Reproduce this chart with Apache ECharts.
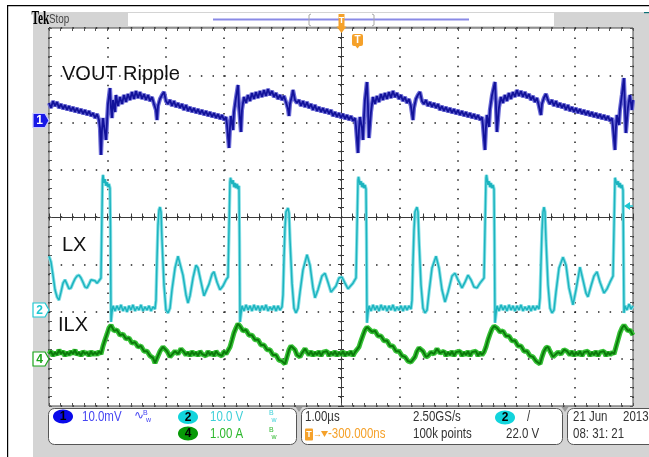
<!DOCTYPE html>
<html>
<head>
<meta charset="utf-8">
<script src="https://cdn.jsdelivr.net/npm/echarts@6/dist/echarts.min.js"></script>
<style>
html,body{margin:0;padding:0;background:#fff;}
#chart{width:649px;height:457px;}
</style>
</head>
<body>
<div id="chart"></div>
<script>
// Time in microseconds (1.00 us/div, 10 divisions)
// CH1 VOUT ripple in mV (10.0 mV/div)
const voutRipple = [
[0,4.13],[0.034,3.07],[0.068,4.55],[0.103,3.49],[0.137,4.34],[0.171,3.07],[0.205,3.91],[0.240,2.86],[0.274,3.70],[0.308,2.65],[0.342,3.49],[0.377,2.43],[0.411,3.28],[0.445,2.22],[0.479,3.07],[0.514,2.01],[0.548,2.86],[0.582,1.80],[0.616,2.65],[0.651,1.59],[0.685,2.43],[0.719,1.38],[0.753,2.01],[0.788,0.95],[0.822,1.80],[0.856,0.53],
[0.873,-1.16],[0.890,-6.88],[0.907,-1.59],[0.925,0.95],[0.942,-0.74],[0.976,-3.70],[0.993,0.11],[1.010,3.91],[1.044,7.30],[1.061,3.07],[1.079,0.95],[1.096,4.76],[1.130,2.22],[1.147,5.82],[1.181,3.49],
[1.216,5.40],[1.250,3.91],[1.284,5.82],[1.318,4.34],[1.352,6.03],[1.387,4.76],[1.421,6.45],[1.455,4.97],[1.489,6.67],[1.524,5.18],[1.558,6.45],[1.592,4.97],[1.626,6.03],[1.661,4.76],[1.695,5.82],[1.729,4.55],[1.763,5.40],[1.798,3.91],[1.832,2.65],[1.849,0.53],[1.866,3.49],[1.900,4.97],[1.935,5.82],[1.969,6.45],[2.003,4.55],
[2.037,3.91],[2.072,4.76],[2.106,3.49],[2.140,4.55],[2.174,3.28],[2.208,4.13],[2.243,3.07],[2.277,3.91],[2.311,2.65],[2.345,3.70],[2.380,2.43],[2.414,3.28],[2.448,2.22],[2.482,3.07],[2.517,2.01],[2.551,2.86],[2.585,1.80],[2.619,2.65],[2.654,1.59],[2.688,2.43],[2.722,1.38],[2.756,2.22],[2.791,1.16],[2.825,2.01],[2.859,0.95],[2.893,1.80],[2.928,0.74],[2.962,1.59],[2.996,0.53],[3.030,1.16],
[3.047,-0.32],[3.082,-5.40],[3.099,-1.16],[3.116,1.38],[3.150,-1.59],[3.167,2.22],[3.201,5.18],[3.236,7.94],[3.253,3.49],[3.287,-2.01],[3.304,2.65],[3.338,5.40],
[3.373,4.13],[3.407,5.82],[3.441,4.55],[3.475,6.24],[3.510,4.97],[3.544,6.45],[3.578,5.18],[3.612,6.67],[3.647,5.40],[3.681,6.88],[3.715,5.61],[3.749,7.09],[3.784,5.82],[3.818,6.67],[3.852,5.40],[3.886,6.24],[3.920,4.97],[3.955,5.82],[3.989,4.76],[4.023,5.61],[4.057,4.34],[4.092,2.86],[4.109,1.38],[4.126,3.91],[4.160,5.61],[4.177,6.88],[4.212,4.76],
[4.246,4.13],[4.280,4.76],[4.314,3.49],[4.349,4.55],[4.383,3.28],[4.417,4.34],[4.451,3.07],[4.486,3.91],[4.520,2.65],[4.554,3.70],[4.588,2.43],[4.623,3.28],[4.657,2.22],[4.691,3.07],[4.725,2.01],[4.760,2.86],[4.794,1.80],[4.828,2.65],[4.862,1.38],[4.897,2.22],[4.931,1.16],[4.965,2.01],[4.999,0.95],[5.034,1.80],[5.068,0.74],[5.102,1.59],[5.136,0.53],[5.171,1.38],[5.205,0.32],[5.239,0.95],
[5.256,-0.74],[5.290,-6.45],[5.307,-1.59],[5.324,1.16],[5.359,-1.16],[5.376,-3.70],[5.393,0.95],[5.410,4.76],[5.444,8.57],[5.461,3.70],[5.478,-3.28],[5.513,2.22],[5.547,5.40],
[5.581,3.91],[5.615,5.61],[5.650,4.34],[5.684,6.03],[5.718,4.76],[5.752,6.24],[5.787,4.97],[5.821,6.45],[5.855,5.18],[5.889,6.67],[5.924,5.40],[5.958,6.24],[5.992,4.97],[6.026,5.82],[6.060,4.55],[6.095,5.40],[6.129,4.13],[6.163,4.97],[6.197,3.49],[6.232,0.53],[6.249,3.07],[6.283,4.97],[6.317,5.82],[6.352,6.45],[6.386,4.55],
[6.420,3.91],[6.454,4.76],[6.488,3.49],[6.523,4.34],[6.557,3.28],[6.591,4.13],[6.625,3.07],[6.660,3.91],[6.694,2.65],[6.728,3.49],[6.762,2.43],[6.797,3.28],[6.831,2.22],[6.865,3.07],[6.899,2.01],[6.934,2.86],[6.968,1.80],[7.002,2.65],[7.036,1.59],[7.071,2.43],[7.105,1.38],[7.139,2.22],[7.173,1.16],[7.208,2.01],[7.242,0.95],[7.276,1.80],[7.310,0.74],[7.345,1.59],[7.379,0.53],[7.413,1.16],
[7.430,-0.53],[7.464,-5.82],[7.481,-1.16],[7.499,1.59],[7.533,-0.95],[7.550,2.65],[7.584,5.61],[7.636,8.57],[7.653,3.91],[7.670,-2.01],[7.704,3.07],[7.738,5.40],
[7.772,4.13],[7.807,5.82],[7.841,4.55],[7.875,6.24],[7.909,4.97],[7.944,6.45],[7.978,5.40],[8.012,6.88],[8.046,5.61],[8.081,6.67],[8.115,5.40],[8.149,6.45],[8.183,5.18],[8.218,6.03],[8.252,4.76],[8.286,5.61],[8.320,4.34],[8.355,5.18],[8.389,3.49],[8.423,1.59],[8.440,3.91],[8.474,5.18],[8.509,6.03],[8.543,4.76],
[8.577,3.91],[8.611,4.76],[8.646,3.49],[8.680,4.55],[8.714,3.28],[8.748,4.13],[8.783,3.07],[8.817,3.91],[8.851,2.65],[8.885,3.70],[8.920,2.43],[8.954,3.28],[8.988,2.22],[9.022,3.07],[9.056,2.01],[9.091,2.86],[9.125,1.80],[9.159,2.65],[9.193,1.59],[9.228,2.43],[9.262,1.38],[9.296,2.22],[9.330,1.16],[9.365,2.01],[9.399,0.95],[9.433,1.80],[9.467,0.74],[9.502,1.59],[9.536,0.53],[9.570,1.38],[9.604,0.32],[9.639,0.95],
[9.656,-0.74],[9.690,-5.82],[9.707,-1.16],[9.724,1.59],[9.758,-0.53],[9.776,2.65],[9.810,5.82],[9.844,9.42],[9.861,3.70],[9.878,-2.22],[9.913,3.07],[9.947,5.82],[9.981,2.65],[10,4.76]
];

// CH2 LX switch node in V (10.0 V/div)
const lxVolts = [
[0,11.7],[0.034,10.5],[0.068,7.7],[0.103,4.6],[0.137,3.1],[0.171,2.4],[0.205,4.1],[0.240,6.0],[0.274,6.7],[0.308,5.8],[0.342,4.8],[0.377,5.0],[0.411,6.0],[0.445,6.9],[0.479,7.5],[0.514,7.7],[0.548,7.1],[0.582,6.2],[0.616,5.2],[0.651,5.0],[0.685,5.8],[0.719,6.7],[0.753,7.1],[0.788,6.5],[0.822,6.0],[0.856,6.5],[0.890,7.1],
[0.908,6.7],[0.916,27.8],[0.925,28.9],[0.942,27.2],[0.959,28.0],[0.976,26.6],[0.993,27.4],[1.010,26.3],[1.027,27.0],[1.044,26.1],[1.053,17.2],[1.062,-2.2],[1.079,-0.1],[1.096,1.2],
[1.130,0.1],[1.164,1.2],[1.199,0.3],[1.233,1.4],[1.267,0.1],[1.301,1.0],[1.336,-0.1],[1.370,1.2],[1.404,0.3],[1.438,1.4],[1.473,0.1],[1.507,1.0],[1.541,0.3],[1.575,1.4],[1.610,0.1],[1.644,1.0],[1.678,0.3],[1.712,1.2],[1.747,0.1],[1.781,1.0],[1.815,0.5],
[1.832,2.4],[1.849,10.9],[1.866,18.3],[1.884,21.5],[1.901,22.1],[1.918,21.1],[1.935,15.1],[1.969,5.6],[2.003,0.3],[2.038,-0.3],[2.072,0.7],[2.106,4.6],[2.158,9.2],[2.209,11.7],[2.243,11.3],[2.294,7.7],[2.346,3.5],[2.380,1.8],[2.414,3.3],[2.466,7.1],[2.517,9.8],[2.551,9.2],[2.603,6.2],[2.654,3.3],[2.688,3.1],[2.740,5.8],[2.791,7.9],[2.825,8.4],[2.877,6.2],[2.928,4.6],[2.979,5.4],[3.031,6.7],[3.065,7.3],[3.091,7.5],
[3.099,27.4],[3.108,28.3],[3.116,28.7],[3.133,27.0],[3.151,27.8],[3.168,26.3],[3.185,27.2],[3.202,26.1],[3.219,27.0],[3.236,25.9],[3.253,26.6],[3.262,15.1],[3.271,-2.2],[3.288,-0.5],[3.305,1.2],
[3.339,0.1],[3.373,1.4],[3.408,0.3],[3.442,1.2],[3.476,0.1],[3.510,1.4],[3.545,0.3],[3.579,1.2],[3.613,0.1],[3.647,1.2],[3.682,0.3],[3.716,1.4],[3.750,0.1],[3.784,1.0],[3.818,0.3],[3.853,1.2],[3.887,0.1],[3.921,1.2],[3.955,0.3],[3.990,1.0],
[4.007,3.5],[4.024,11.3],[4.041,17.7],[4.058,21.1],[4.092,21.9],[4.110,20.8],[4.127,15.1],[4.161,6.0],[4.195,0.7],[4.229,-0.3],[4.264,0.7],[4.298,4.1],[4.349,8.8],[4.418,12.0],[4.469,9.8],[4.520,5.0],[4.555,2.9],[4.606,4.6],[4.674,7.5],[4.726,8.1],[4.777,6.2],[4.829,4.1],[4.863,3.7],[4.914,5.4],[4.966,7.1],[5.017,7.3],[5.068,6.0],[5.120,4.8],[5.154,5.0],[5.205,6.0],[5.257,7.1],[5.282,7.3],
[5.291,27.8],[5.300,28.5],[5.308,28.7],[5.325,26.8],[5.342,27.6],[5.360,26.3],[5.377,27.2],[5.394,26.1],[5.411,26.8],[5.428,25.9],[5.437,15.1],[5.445,-2.4],[5.462,-0.3],[5.479,1.2],
[5.514,0.1],[5.548,1.4],[5.582,0.3],[5.616,1.2],[5.651,0.1],[5.685,1.4],[5.719,0.3],[5.753,1.2],[5.788,0.1],[5.822,1.2],[5.856,0.3],[5.890,1.4],[5.925,0.1],[5.959,1.0],[5.993,0.3],[6.027,1.2],[6.062,0.1],[6.096,1.2],[6.130,0.3],[6.164,1.2],[6.199,0.5],
[6.216,2.4],[6.233,10.5],[6.250,17.2],[6.267,21.1],[6.301,22.1],[6.318,21.1],[6.336,15.1],[6.370,5.6],[6.404,0.7],[6.438,-0.3],[6.473,0.3],[6.507,4.1],[6.558,9.2],[6.627,11.7],[6.678,9.2],[6.729,4.6],[6.781,2.0],[6.832,4.1],[6.901,7.5],[6.952,8.1],[7.003,6.7],[7.072,5.0],[7.123,6.2],[7.175,7.7],[7.226,6.7],[7.277,5.2],[7.329,5.0],[7.380,6.0],[7.449,7.1],[7.474,7.3],
[7.483,28.3],[7.491,28.9],[7.500,28.7],[7.517,26.8],[7.534,27.6],[7.551,26.3],[7.568,27.2],[7.585,26.1],[7.603,26.8],[7.620,25.9],[7.628,15.1],[7.637,-2.4],[7.654,-0.5],[7.671,1.2],
[7.705,0.1],[7.740,1.4],[7.774,0.3],[7.808,1.2],[7.842,0.1],[7.877,1.4],[7.911,0.3],[7.945,1.2],[7.979,0.1],[8.014,1.2],[8.048,0.3],[8.082,1.4],[8.116,0.1],[8.151,1.0],[8.185,0.3],[8.219,1.2],[8.253,0.1],[8.288,1.2],[8.322,0.3],[8.356,1.2],[8.390,0.5],
[8.408,2.9],[8.425,10.5],[8.442,17.2],[8.459,21.1],[8.476,22.1],[8.493,21.1],[8.510,15.1],[8.545,5.6],[8.579,0.7],[8.613,-0.3],[8.647,0.3],[8.681,4.1],[8.733,9.2],[8.801,11.5],[8.853,9.8],[8.904,5.0],[8.972,1.4],[9.024,4.6],[9.092,9.4],[9.143,6.7],[9.195,3.9],[9.229,3.1],[9.281,5.4],[9.332,7.5],[9.383,8.4],[9.435,6.2],[9.503,3.9],[9.555,4.8],[9.606,6.2],[9.658,7.5],[9.683,7.5],
[9.692,28.3],[9.700,28.7],[9.709,28.5],[9.726,26.8],[9.743,27.6],[9.760,26.3],[9.777,27.2],[9.795,26.1],[9.812,26.8],[9.829,25.7],[9.837,13.0],[9.846,-0.3],[9.863,1.2],[9.897,0.3],[9.932,1.6],[9.966,0.5],[10,1.2]
];

// CH4 ILX inductor current in A (1.00 A/div)
const ilxAmps = [
[0,0.10],[0.034,0.16],[0.068,0.06],[0.103,0.14],[0.137,0.08],[0.171,0.19],[0.205,0.10],[0.240,0.16],[0.274,0.06],[0.308,0.14],[0.342,0.08],[0.377,0.16],[0.411,0.10],[0.445,0.19],[0.479,0.08],[0.514,0.14],[0.548,0.06],[0.582,0.16],[0.616,0.10],[0.651,0.14],[0.685,0.06],[0.719,0.16],[0.753,0.08],[0.788,0.14],[0.822,0.08],[0.856,0.16],[0.890,0.10],
[0.925,0.27],[0.959,0.40],[0.993,0.52],[1.027,0.65],[1.062,0.71],[1.079,0.67],
[1.113,0.59],[1.164,0.61],[1.216,0.50],[1.267,0.52],[1.318,0.42],[1.370,0.44],[1.421,0.33],[1.473,0.35],[1.524,0.25],[1.575,0.27],[1.627,0.16],[1.678,0.16],[1.729,0.06],[1.781,0.02],[1.815,-0.09],[1.832,-0.11],
[1.866,0.06],[1.901,0.16],[1.952,0.25],[1.986,0.27],[2.021,0.16],[2.072,0.04],[2.106,0.06],[2.158,0.16],[2.209,0.10],[2.260,0.21],[2.312,0.14],[2.346,0.08],
[2.380,0.14],[2.414,0.06],[2.449,0.16],[2.483,0.08],[2.517,0.14],[2.551,0.06],[2.586,0.16],[2.620,0.10],[2.654,0.14],[2.688,0.06],[2.723,0.16],[2.757,0.08],[2.791,0.14],[2.825,0.06],[2.860,0.16],[2.894,0.10],[2.928,0.14],[2.962,0.06],[2.997,0.16],[3.031,0.10],[3.065,0.14],
[3.099,0.25],[3.134,0.40],[3.168,0.55],[3.202,0.65],[3.236,0.74],[3.253,0.76],[3.271,0.69],
[3.322,0.59],[3.373,0.61],[3.425,0.50],[3.476,0.50],[3.527,0.40],[3.579,0.40],[3.630,0.29],[3.682,0.29],[3.733,0.19],[3.784,0.19],[3.836,0.08],[3.887,0.08],[3.938,-0.03],[3.990,-0.05],[4.041,-0.11],
[4.075,0.04],[4.110,0.19],[4.144,0.27],[4.178,0.29],[4.212,0.19],[4.247,0.08],[4.298,0.04],[4.332,0.12],[4.384,0.21],[4.418,0.14],[4.452,0.08],
[4.486,0.16],[4.521,0.06],[4.555,0.14],[4.589,0.08],[4.623,0.16],[4.658,0.06],[4.692,0.14],[4.726,0.10],[4.760,0.16],[4.795,0.06],[4.829,0.14],[4.863,0.08],[4.897,0.16],[4.932,0.06],[4.966,0.14],[5.000,0.08],[5.034,0.16],[5.068,0.06],[5.103,0.14],[5.137,0.08],[5.171,0.16],[5.205,0.06],[5.240,0.14],[5.274,0.10],
[5.308,0.25],[5.342,0.38],[5.377,0.50],[5.411,0.61],[5.445,0.67],[5.462,0.69],[5.479,0.65],
[5.531,0.57],[5.582,0.59],[5.634,0.48],[5.685,0.48],[5.736,0.38],[5.788,0.38],[5.839,0.27],[5.890,0.27],[5.942,0.16],[5.993,0.16],[6.045,0.06],[6.096,0.04],[6.147,-0.05],[6.199,-0.07],[6.233,-0.11],
[6.267,0.04],[6.301,0.16],[6.336,0.23],[6.370,0.25],[6.404,0.16],[6.455,0.04],[6.490,0.06],[6.541,0.14],[6.592,0.10],[6.644,0.21],[6.695,0.12],[6.729,0.08],
[6.764,0.16],[6.798,0.06],[6.832,0.14],[6.866,0.08],[6.901,0.16],[6.935,0.06],[6.969,0.14],[7.003,0.10],[7.038,0.16],[7.072,0.06],[7.106,0.14],[7.140,0.08],[7.175,0.16],[7.209,0.06],[7.243,0.14],[7.277,0.10],[7.312,0.16],[7.346,0.06],[7.380,0.14],[7.414,0.08],[7.449,0.14],
[7.483,0.25],[7.517,0.40],[7.551,0.52],[7.586,0.63],[7.620,0.69],[7.637,0.71],[7.671,0.65],
[7.723,0.57],[7.774,0.59],[7.825,0.48],[7.877,0.48],[7.928,0.38],[7.979,0.38],[8.031,0.27],[8.082,0.27],[8.134,0.16],[8.185,0.16],[8.236,0.06],[8.288,0.04],[8.339,-0.05],[8.373,-0.07],[8.408,-0.11],
[8.442,0.04],[8.476,0.16],[8.510,0.23],[8.545,0.25],[8.579,0.16],[8.630,0.04],[8.664,0.06],[8.716,0.14],[8.767,0.10],[8.818,0.19],[8.870,0.16],[8.921,0.08],
[8.955,0.16],[8.990,0.06],[9.024,0.14],[9.058,0.08],[9.092,0.16],[9.127,0.06],[9.161,0.14],[9.195,0.10],[9.229,0.16],[9.264,0.06],[9.298,0.14],[9.332,0.08],[9.366,0.16],[9.401,0.06],[9.435,0.14],[9.469,0.10],[9.503,0.16],[9.538,0.06],[9.572,0.14],[9.606,0.08],[9.640,0.14],[9.675,0.10],
[9.709,0.25],[9.743,0.40],[9.777,0.55],[9.812,0.65],[9.829,0.69],[9.846,0.71],[9.880,0.65],[9.914,0.59],[9.949,0.61],[10,0.50]
];

// Readout texts
const ch1Readout = '10.0mV';
const ch2Readout = '10.0 V';
const ch4Readout = '1.00 A';
const timebase = '1.00\u00b5s';
const sampleRate = '2.50GS/s';
const recordLen = '100k points';
const trigDelay = '-300.000ns';
const trigLevel = '22.0 V';
const dateTxt = ['21 Jun', '2013', '08: 31: 21'];

const SANS = "'Liberation Sans',Arial,sans-serif";
const ORANGE = '#f5a12a';
const CYAN = '#1ec8d2';
const GREEN = '#1aa51a';

function tickAxis(extra) {
  return Object.assign({
    type: 'value', interval: 1,
    axisLabel: {show: false},
    splitLine: {show: false},
    axisTick: {show: true, inside: true, length: 3, lineStyle: {color: '#555', width: 1}},
    minorTick: {show: true, splitNumber: 5, length: 3, lineStyle: {color: '#555', width: 1}},
    axisLine: {show: false, onZero: false}
  }, extra);
}

const chart = echarts.init(document.getElementById('chart'), null, {renderer: 'canvas'});

function txt(text, x, y, font, fill, align) {
  return {type: 'text', silent: true, z: 60,
    style: {text: text, x: x, y: y, font: font, fill: fill,
      textAlign: align || 'left', align: align || 'left',
      textVerticalAlign: 'middle', verticalAlign: 'middle'}};
}
// condensed scope readout text
function ntxt(text, x, y, fill, size, sx) {
  return {type: 'text', silent: true, z: 60, x: x, y: y, scaleX: sx || 0.82,
    style: {text: text, x: 0, y: 0, font: (size || 14) + 'px ' + SANS, fill: fill,
      textAlign: 'left', align: 'left', textVerticalAlign: 'middle', verticalAlign: 'middle'}};
}
function badge(label, cx, cy, color) {
  return [
    {type: 'ellipse', silent: true, z: 55, shape: {cx: cx, cy: cy, rx: 10, ry: 7}, style: {fill: color}},
    txt(label, cx, cy + 0.5, 'bold 12px ' + SANS, '#000', 'center')
  ];
}
function leftMarker(label, cy, fill, stroke, textColor) {
  return [
    {type: 'polygon', silent: true, z: 55,
      shape: {points: [[33, cy - 7], [45, cy - 7], [49, cy], [45, cy + 7], [33, cy + 7]]},
      style: {fill: fill, stroke: stroke, lineWidth: 1.2}},
    txt(label, 39.5, cy + 0.5, 'bold 12px ' + SANS, textColor, 'center')
  ];
}

const graphics = [
  {type: 'rect', silent: true, z: -20, shape: {x: 33, y: 12, width: 616, height: 445}, style: {fill: '#d4d4d4'}},
  {type: 'rect', silent: true, z: 60, shape: {x: 7, y: 5, width: 642, height: 1.2}, style: {fill: '#000'}},
  {type: 'rect', silent: true, z: 60, shape: {x: 7, y: 5, width: 1.2, height: 452}, style: {fill: '#000'}},
  {type: 'rect', silent: true, z: 60, shape: {x: 644, y: 12, width: 5, height: 1.2}, style: {fill: '#0b6f75'}},
  // header
  {type: 'text', silent: true, z: 60, scaleX: 0.6, x: 31.5, y: 19,
    style: {text: 'Tek', x: 0, y: 0, font: 'bold 19px "Liberation Serif",serif', fill: '#000',
      verticalAlign: 'middle', textVerticalAlign: 'middle'}},
  ntxt('Stop', 49, 19.5, '#444', 13, 0.76),
  {type: 'rect', silent: true, z: -5, shape: {x: 128, y: 13, width: 426, height: 13}, style: {fill: '#fff'}},
  {type: 'line', silent: true, z: 10, shape: {x1: 213, y1: 19.5, x2: 469, y2: 19.5}, style: {stroke: '#8a8ae6', lineWidth: 2}},
  {type: 'polyline', silent: true, z: 11, shape: {points: [[311, 14], [309, 15], [309, 25], [311, 26]]}, style: {stroke: '#a8a8a8', lineWidth: 1, fill: null}},
  {type: 'polyline', silent: true, z: 11, shape: {points: [[372, 14], [374, 15], [374, 25], [372, 26]]}, style: {stroke: '#a8a8a8', lineWidth: 1, fill: null}},
  {type: 'rect', silent: true, z: 60, shape: {x: 338.5, y: 14, width: 6, height: 13}, style: {fill: ORANGE}},
  txt('T', 341.5, 21, 'bold 9px ' + SANS, '#fff', 'center'),
  {type: 'polygon', silent: true, z: 60, shape: {points: [[336.5, 26.5], [346.5, 26.5], [341.5, 33]]}, style: {fill: ORANGE}},
  {type: 'rect', silent: true, z: 60, shape: {x: 352, y: 34, width: 11, height: 12, r: 2}, style: {fill: ORANGE}},
  {type: 'polygon', silent: true, z: 60, shape: {points: [[355, 45.5], [360, 45.5], [357.5, 48.5]]}, style: {fill: ORANGE}},
  txt('T', 357.5, 40.5, 'bold 10px ' + SANS, '#fff', 'center'),
  // in-plot labels
  txt('VOUT Ripple', 62, 74.5, '20px ' + SANS, '#111'),
  txt('LX', 62, 245, '20px ' + SANS, '#111'),
  txt('ILX', 58, 325, '20px ' + SANS, '#111'),
  // trigger level arrow (right edge)
  {type: 'polygon', silent: true, z: 60, shape: {points: [[624, 206], [630, 202], [630, 210]]}, style: {fill: CYAN}},
  {type: 'line', silent: true, z: 60, shape: {x1: 629, y1: 206, x2: 633, y2: 206}, style: {stroke: CYAN, lineWidth: 1.5}},
  // bottom readout boxes
  {type: 'rect', silent: true, z: 50, shape: {x: 48.5, y: 408.5, width: 248, height: 36, r: 6}, style: {fill: '#fff', stroke: '#555', lineWidth: 1}},
  {type: 'rect', silent: true, z: 50, shape: {x: 301.5, y: 408.5, width: 261, height: 36, r: 6}, style: {fill: '#fff', stroke: '#555', lineWidth: 1}},
  {type: 'rect', silent: true, z: 50, shape: {x: 567.5, y: 408.5, width: 100, height: 36, r: 6}, style: {fill: '#fff', stroke: '#555', lineWidth: 1}},
  {type: 'polygon', silent: true, z: 51, shape: {points: [[295.5, 407], [302.5, 407], [299, 412]]}, style: {fill: '#9a9a9a'}},
  {type: 'polygon', silent: true, z: 51, shape: {points: [[561.5, 407], [568.5, 407], [565, 412]]}, style: {fill: '#9a9a9a'}},
  ntxt(ch1Readout, 82, 417.5, '#4646f2'),
  txt('\u223f', 134, 416, '12px ' + SANS, '#4646f2'),
  txt('B', 143, 413, '7px ' + SANS, '#4646f2'),
  txt('w', 146, 420, '7px ' + SANS, '#4646f2'),
  ntxt(ch2Readout, 210, 417.5, '#3fd0d8'),
  txt('B', 269, 413, '7px ' + SANS, '#3fd0d8'),
  txt('w', 271.5, 420, '7px ' + SANS, '#3fd0d8'),
  ntxt(ch4Readout, 210, 434.5, '#2fb82f'),
  txt('B', 269, 430, '7px ' + SANS, '#2fb82f'),
  txt('w', 271.5, 437, '7px ' + SANS, '#2fb82f'),
  ntxt(timebase, 305, 417.5, '#333'),
  ntxt(sampleRate, 413, 417.5, '#333'),
  ntxt('/', 527, 417.5, '#333'),
  {type: 'rect', silent: true, z: 55, shape: {x: 305, y: 428.5, width: 8, height: 12, r: 1}, style: {fill: ORANGE}},
  txt('T', 309, 435, 'bold 9px ' + SANS, '#fff', 'center'),
  txt('\u2192', 313, 434.5, '9px ' + SANS, ORANGE),
  {type: 'polygon', silent: true, z: 55, shape: {points: [[321, 431], [328, 431], [324.5, 437]]}, style: {fill: ORANGE}},
  ntxt(trigDelay, 328, 434.5, ORANGE),
  ntxt(recordLen, 413, 434.5, '#333'),
  ntxt(trigLevel, 506, 434.5, '#333'),
  ntxt(dateTxt[0], 573, 417.5, '#333'),
  ntxt(dateTxt[1], 623, 417.5, '#333'),
  ntxt(dateTxt[2], 573, 434.5, '#333')
].concat(
  badge('1', 63, 416.5, '#0a0aea'),
  badge('2', 188, 417, '#12d4dc'),
  badge('4', 188, 433.5, '#079a07'),
  badge('2', 505, 417.5, '#12d4dc'),
  leftMarker('1', 120.5, '#1818e6', '#c8c8ff', '#fff'),
  leftMarker('2', 310, '#fff', CYAN, CYAN),
  leftMarker('4', 359, '#fff', GREEN, GREEN)
);

function traceSeries(data, yIdx, halo, core, hw, cw, zBase) {
  return [
    {type: 'line', xAxisIndex: 0, yAxisIndex: yIdx, data: data, symbol: 'none', showSymbol: false,
      lineStyle: {color: halo, width: hw}, z: zBase, silent: true, animation: false},
    {type: 'line', xAxisIndex: 0, yAxisIndex: yIdx, data: data, symbol: 'none', showSymbol: false,
      lineStyle: {color: core, width: cw}, z: zBase + 1, silent: true, animation: false}
  ];
}

chart.setOption({
  animation: false,
  backgroundColor: '#fff',
  grid: {left: 49, top: 28, width: 584, height: 378, show: true, backgroundColor: '#fff', borderColor: '#4a4a4a', borderWidth: 1},
  xAxis: [
    tickAxis({min: 0, max: 10, position: 'bottom',
      splitLine: {show: true, lineStyle: {color: '#222', width: 1.5, type: [1.5, 7.95]}}}),
    tickAxis({min: 0, max: 10, position: 'top'}),
    tickAxis({min: -5, max: 5, position: 'bottom',
      axisLine: {show: true, onZero: true, onZeroAxisIndex: 0, lineStyle: {color: '#3a3a3a', width: 1}},
      axisTick: {show: true, inside: true, length: 3.5, lineStyle: {color: '#3a3a3a'}},
      minorTick: {show: true, splitNumber: 5, length: 3.5, lineStyle: {color: '#3a3a3a'}}}),
    tickAxis({min: -5, max: 5, position: 'bottom',
      axisLine: {show: true, onZero: true, onZeroAxisIndex: 0, lineStyle: {color: '#3a3a3a', width: 1}},
      axisTick: {show: true, inside: false, length: 3.5, lineStyle: {color: '#3a3a3a'}},
      minorTick: {show: true, splitNumber: 5, length: 3.5, lineStyle: {color: '#3a3a3a'}}})
  ],
  yAxis: [
    tickAxis({min: -4, max: 4, position: 'left',
      splitLine: {show: true, lineStyle: {color: '#222', width: 1.5, type: [1.5, 10.18]}}}),
    tickAxis({min: -4, max: 4, position: 'right'}),
    tickAxis({min: -4, max: 4, position: 'left',
      axisLine: {show: true, onZero: true, onZeroAxisIndex: 2, lineStyle: {color: '#3a3a3a', width: 1}},
      axisTick: {show: true, inside: true, length: 3, lineStyle: {color: '#3a3a3a'}},
      minorTick: {show: true, splitNumber: 5, length: 3, lineStyle: {color: '#3a3a3a'}}}),
    tickAxis({min: -4, max: 4, position: 'left',
      axisLine: {show: true, onZero: true, onZeroAxisIndex: 2, lineStyle: {color: '#3a3a3a', width: 1}},
      axisTick: {show: true, inside: false, length: 3, lineStyle: {color: '#3a3a3a'}},
      minorTick: {show: true, splitNumber: 5, length: 3, lineStyle: {color: '#3a3a3a'}}}),
    // CH1: 10 mV/div, ground +2 div
    {type: 'value', min: -60, max: 20, show: false, axisLine: {onZero: false}},
    // CH2: 10 V/div, ground -2 div
    {type: 'value', min: -20, max: 60, show: false, axisLine: {onZero: false}},
    // CH4: 1 A/div, ground -3 div
    {type: 'value', min: -1, max: 7, show: false, axisLine: {onZero: false}}
  ],
  series: [].concat(
    traceSeries(ilxAmps, 6, '#36c236', '#0b7a0b', 5, 2, 3),
    traceSeries(lxVolts, 5, '#8ae0e6', '#1cb4bf', 3.4, 1.5, 5),
    traceSeries(voutRipple, 4, '#6a6ad6', '#12129a', 4.2, 1.8, 7)
  ),
  graphic: {elements: graphics}
});
</script>
</body>
</html>
